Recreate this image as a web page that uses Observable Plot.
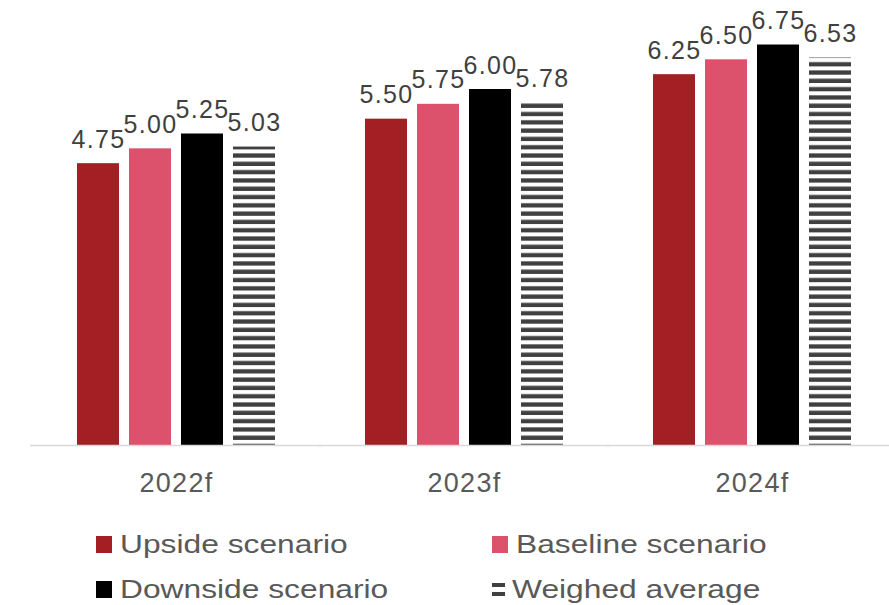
<!DOCTYPE html>
<html>
<head>
<meta charset="utf-8">
<script src="https://cdn.jsdelivr.net/npm/d3@7"></script>
<script src="https://cdn.jsdelivr.net/npm/@observablehq/plot@0.6"></script>
<style>
  html, body { margin: 0; padding: 0; background: #fff; overflow: hidden; }
  #wrap { position: relative; width: 889px; height: 605px; font-family: "Liberation Sans", Arial, sans-serif; }
  #legend { position: absolute; left: 0; top: 0; width: 889px; height: 605px; pointer-events: none; }
  .item { position: absolute; display: flex; align-items: center; color: #595959; font-size: 25px; white-space: nowrap; }
  .item span { display: inline-block; transform: scaleX(1.27); transform-origin: left center; }
  .sw { width: 16px; height: 17px; margin-right: 8px; flex: none; }
</style>
</head>
<body>
<div id="wrap"></div>
<script>
// ---- data ----
const years = ["2022f", "2023f", "2024f"];
const series = ["Upside scenario", "Baseline scenario", "Downside scenario", "Weighed average"];
const upside = [4.75, 5.50, 6.25];
const baseline = [5.00, 5.75, 6.50];
const downside = [5.25, 6.00, 6.75];
const weighed = [5.03, 5.78, 6.53];
const colors = ["#a31f24", "#dc526c", "#000000", "url(#stripes)"];

const valuesBySeries = [upside, baseline, downside, weighed];
const rows = [];
years.forEach((yr, i) => {
  series.forEach((s, j) => rows.push({year: yr, series: s, value: valuesBySeries[j][i]}));
});

const chart = Plot.plot({
  width: 889,
  height: 510,
  marginTop: 0,
  marginBottom: 65,
  marginLeft: 31,
  marginRight: -7,
  style: {fontFamily: "Liberation Sans, Arial, sans-serif", fontSize: "27px", color: "#595959", background: "transparent", overflow: "visible", letterSpacing: "1.3px"},
  fx: {domain: years, paddingInner: 0.307, paddingOuter: 0.1535, tickSize: 0, tickPadding: 27, label: null},
  x: {domain: series, paddingInner: 0.2, paddingOuter: 0, axis: null},
  y: {domain: [0, 7.5], axis: null},
  color: {domain: series, range: colors},
  marks: [
    Plot.barY(rows, {fx: "year", x: "series", y: "value", fill: "series"}),
    Plot.ruleY([0], {stroke: "#d9d9d9", strokeWidth: 1.5, insetLeft: -46, insetRight: -46}),
    Plot.text(rows, {fx: "year", x: "series", y: "value", text: d => d.value.toFixed(2),
      lineAnchor: "bottom", dy: -16, fontSize: 25, fill: "#404040"})
  ]
});

// stripe pattern for the weighed average bars
const defs = d3.select(chart).insert("defs", ":first-child");
const pat = defs.append("pattern").attr("id", "stripes").attr("patternUnits", "userSpaceOnUse")
  .attr("width", 10).attr("height", 8.3);
pat.append("rect").attr("width", 10).attr("height", 8.3).attr("fill", "#ffffff");
pat.append("rect").attr("y", 4.0).attr("width", 10).attr("height", 4.3).attr("fill", "#404040");

document.getElementById("wrap").appendChild(chart);

// legend
const legend = document.createElement("div");
legend.id = "legend";
const pos = [[96, 544], [492, 544], [96, 589], [492, 589]];
series.forEach((s, i) => {
  const it = document.createElement("div");
  it.className = "item";
  it.style.left = pos[i][0] + "px";
  it.style.top = (pos[i][1] - 16) + "px";
  it.style.height = "32px";
  const sw = document.createElement("div");
  sw.className = "sw";
  if (i === 3) {
    sw.style.width = "13px";
    sw.style.height = "13px";
    sw.style.marginRight = "7px";
    sw.style.background = "linear-gradient(#404040 0 4px, transparent 4px 9px, #404040 9px 13px)";
  } else {
    sw.style.background = colors[i];
  }
  it.appendChild(sw);
  const t = document.createElement("span");
  t.textContent = s;
  it.appendChild(t);
  legend.appendChild(it);
});
document.getElementById("wrap").appendChild(legend);
</script>
</body>
</html>
